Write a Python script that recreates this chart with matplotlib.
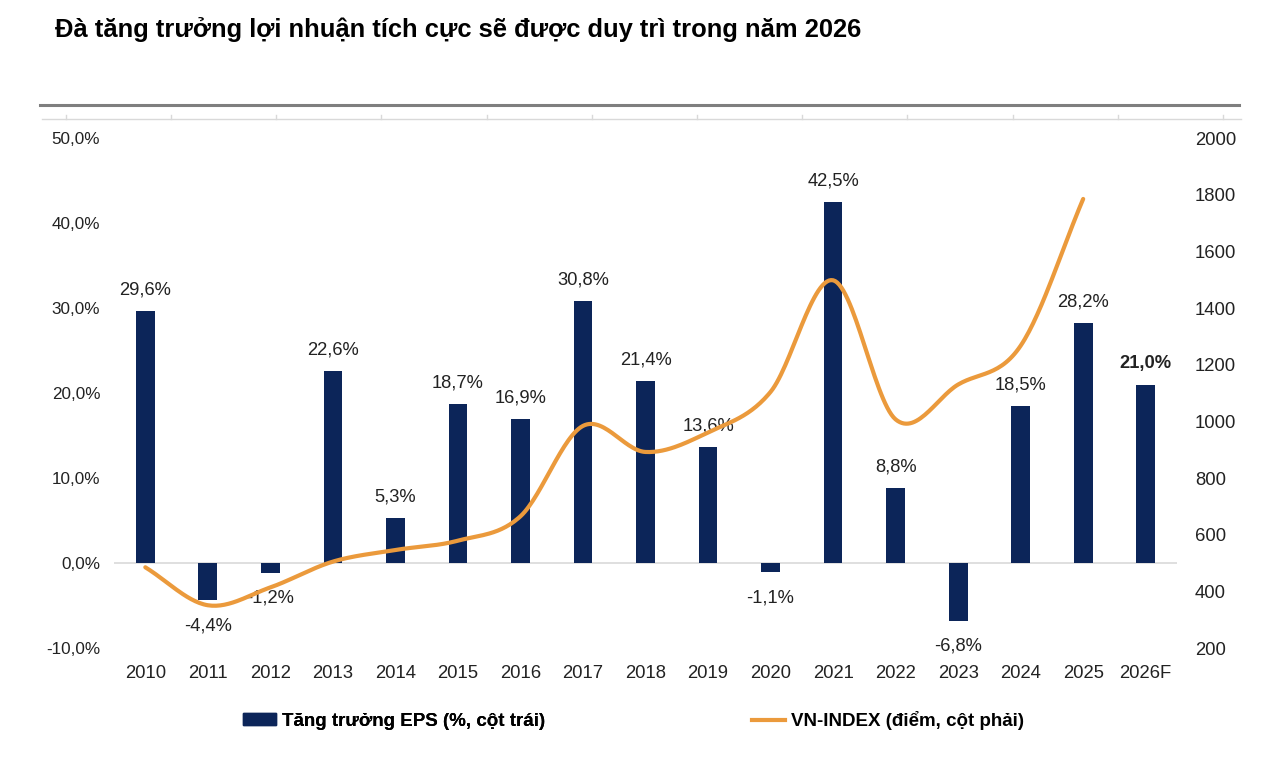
import numpy as np
import matplotlib
matplotlib.use("Agg")
import matplotlib.pyplot as plt
from matplotlib.lines import Line2D
from matplotlib.patches import Patch

plt.rcParams["font.family"] = ["Liberation Sans", "DejaVu Sans"]

years = ["2010", "2011", "2012", "2013", "2014", "2015", "2016", "2017", "2018",
         "2019", "2020", "2021", "2022", "2023", "2024", "2025", "2026F"]
eps_growth = [29.6, -4.4, -1.2, 22.6, 5.3, 18.7, 16.9, 30.8, 21.4,
              13.6, -1.1, 42.5, 8.8, -6.8, 18.5, 28.2, 21.0]
vnindex = [485, 351, 414, 505, 546, 579, 665, 984, 892,
           961, 1104, 1498, 1007, 1130, 1267, 1785]

NAVY = "#0c2559"
ORANGE = "#eb9a3c"
TXT = "#222222"


def smooth(x, y, n=30):
    # Catmull-Rom curve through the points (like Excel's smoothed line)
    x = np.asarray(x, float); y = np.asarray(y, float)
    px = np.concatenate([[2 * x[0] - x[1]], x, [2 * x[-1] - x[-2]]])
    py = np.concatenate([[2 * y[0] - y[1]], y, [2 * y[-1] - y[-2]]])
    xs, ys = [], []
    t = np.linspace(0, 1, n, endpoint=False)
    for i in range(1, len(px) - 2):
        for p, out in ((px, xs), (py, ys)):
            p0, p1, p2, p3 = p[i - 1], p[i], p[i + 1], p[i + 2]
            out.extend(0.5 * (2 * p1 + (-p0 + p2) * t + (2 * p0 - 5 * p1 + 4 * p2 - p3) * t ** 2
                              + (-p0 + 3 * p1 - 3 * p2 + p3) * t ** 3))
    xs.append(x[-1]); ys.append(y[-1])
    return np.array(xs), np.array(ys)


fig = plt.figure(figsize=(12.8, 7.66), dpi=100)
ax = fig.add_axes([0.0891, 0.154, 0.8304, 0.6658])
ax2 = ax.twinx()
ax.set_zorder(ax2.get_zorder() - 1)
ax.patch.set_visible(False)
ax2.patch.set_visible(False)

x = np.arange(len(years))
ax.bar(x, eps_growth, width=0.3, color=NAVY, zorder=2)
ax.axhline(0, color="#d9d9d9", lw=1.2, zorder=1)
ax.set_xlim(-0.5, len(years) - 0.5)
ax.set_ylim(-10, 50)
ax.set_yticks(np.arange(-10, 51, 10))
ax.set_yticklabels([f"{v:.1f}%".replace(".", ",") for v in np.arange(-10, 51, 10)])
ax.set_xticks(x)
ax.set_xticklabels(years)
ax.tick_params(axis="both", length=0, colors=TXT)
ax.tick_params(axis="x", pad=12, labelsize=13.3)
ax.tick_params(axis="y", pad=10, labelsize=12.3)

for xi, v in zip(x, eps_growth):
    lbl = f"{v:.1f}%".replace(".", ",")
    bold = years[xi] == "2026F"
    if v >= 0:
        ax.annotate(lbl, (xi, v), xytext=(0, 9), textcoords="offset points",
                    ha="center", va="bottom", fontsize=13.2, color=TXT,
                    fontweight="bold" if bold else "normal")
    else:
        ax.annotate(lbl, (xi, v), xytext=(0, -12), textcoords="offset points",
                    ha="center", va="top", fontsize=13.2, color=TXT)

sx, sy = smooth(x[:len(vnindex)], vnindex)
ax2.plot(sx, sy, color=ORANGE, lw=3, solid_capstyle="round", zorder=3)
ax2.set_ylim(200, 2000)
ax2.set_yticks(np.arange(200, 2001, 200))
ax2.tick_params(axis="y", length=0, labelsize=13.3, colors=TXT, pad=13)

for a in (ax, ax2):
    for s in a.spines.values():
        s.set_visible(False)

# header rules
fig.add_artist(Line2D([40 / 1280, 1239 / 1280], [1 - 105 / 766] * 2, color="#7f7f7f", lw=2.2))
fig.add_artist(Line2D([42 / 1280, 1241 / 1280], [1 - 119 / 766] * 2, color="#d9d9d9", lw=1))
for k in range(12):
    xt = (65.7 + k * 105.2) / 1280
    fig.add_artist(Line2D([xt, xt], [1 - 119 / 766, 1 - 115 / 766], color="#d9d9d9", lw=1))

fig.text(55 / 1280, 1 - 30 / 766, "Đà tăng trưởng lợi nhuận tích cực sẽ được duy trì trong năm 2026",
         fontsize=18.4, fontweight="bold", color="black", va="center", ha="left")

leg_kw = dict(loc="center left", frameon=False, prop={"size": 13.5, "weight": "bold"},
              handlelength=1.76, handleheight=0.55, handletextpad=0.32,
              borderpad=0, borderaxespad=0)
leg1 = fig.legend([Patch(facecolor=NAVY, edgecolor=NAVY)], ["Tăng trưởng EPS (%, cột trái)"],
                  bbox_to_anchor=(243 / 1280, 1 - 721 / 766), **leg_kw)
fig.add_artist(leg1)
fig.legend([Line2D([0], [0], color=ORANGE, lw=3)], ["VN-INDEX (điểm, cột phải)"],
           bbox_to_anchor=(752 / 1280, 1 - 721 / 766), **leg_kw)

fig.savefig("out.png", dpi=100)
